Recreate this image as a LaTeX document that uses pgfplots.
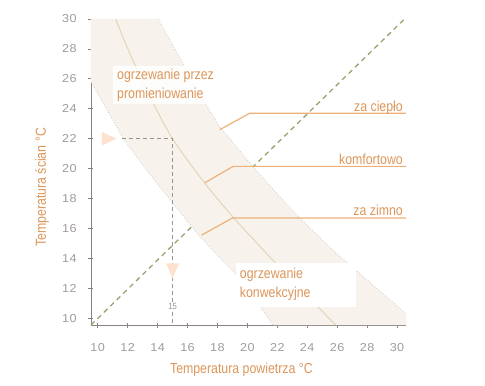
\documentclass[border=0pt]{standalone}
\usepackage{fontspec}
\setmainfont{Liberation Sans}
\newfontfamily\narrowfont{Liberation Sans}[FakeStretch=0.85]
\newfontfamily\tickfont{Liberation Sans}[FakeStretch=1.1,LetterSpace=4]
\usepackage{pgfplots}
\pgfplotsset{compat=1.18}
\definecolor{axgray}{RGB}{140,130,130}
\definecolor{ticklab}{RGB}{160,155,155}
\definecolor{bandc}{RGB}{247,243,236}
\definecolor{bandedge}{RGB}{208,208,208}
\definecolor{centerc}{RGB}{225,210,178}
\definecolor{orangeline}{RGB}{236,176,120}
\definecolor{orangetext}{RGB}{220,150,90}
\definecolor{lgreen}{RGB}{150,165,110}
\definecolor{peach}{RGB}{253,226,208}
\definecolor{dashgray}{RGB}{150,150,150}
\newcommand{\annfont}{\narrowfont\fontsize{14.5bp}{17bp}\selectfont}
\begin{document}
\begin{tikzpicture}
\useasboundingbox (-91bp,-61bp) rectangle (394bp,325bp);
\begin{axis}[
  at={(0,0)}, anchor=south west,
  scale only axis, width=315bp, height=306bp,
  xmin=9.55, xmax=30.6, ymin=9.55, ymax=30,
  axis x line*=bottom, axis y line*=left,
  axis line style={axgray, line width=1pt, -},
  x axis line style={-}, y axis line style={-},
  xtick={10,12,...,30}, ytick={10,12,...,30},
  tick align=center, major tick length=5bp,
  tick style={axgray, line width=0.8pt},
  /pgf/number format/assume math mode=true,
  xticklabel style={font=\tickfont\fontsize{11.5bp}{13bp}\selectfont, text=ticklab, anchor=center, yshift=-20bp},
  yticklabel style={font=\tickfont\fontsize{11.5bp}{13bp}\selectfont, text=ticklab, anchor=center, xshift=-19bp},
  clip=false,
]
% diagonal y = x
\addplot[lgreen, line width=1.3pt, dash pattern=on 5bp off 4bp] coordinates {(9.55,9.55) (30.5,30)};
% band
\addplot[fill=bandc, draw=none] coordinates {
 (9.55,30) (14.04,30) (15.49,27.4) (16.8,25.0) (18.15,22.8) (20.4,20.1) (23,17.2) (25.7,14.55) (27.5,13.0) (30.6,10.3)
 (30.6,9.55) (21.7,9.55) (20.5,11.3) (19.3,12.9) (18.2,14.0) (16.8,15.5) (15.04,17.67) (13.3,19.85) (11.7,22.0) (11.04,23.2) (9.55,25.8)
} -- cycle;
\addplot[bandedge, dotted, line width=0.9pt] coordinates {
 (14.04,30) (15.49,27.4) (16.8,25.0) (18.15,22.8) (20.4,20.1) (23,17.2) (25.7,14.55) (27.5,13.0) (30.6,10.3)};
\addplot[bandedge, dotted, line width=0.9pt] coordinates {
 (21.7,9.55) (20.5,11.3) (19.3,12.9) (18.2,14.0) (16.8,15.5) (15.04,17.67) (13.3,19.85) (11.7,22.0) (11.04,23.2) (9.55,25.8)};
% centre curve
\addplot[centerc, line width=0.9pt, smooth] coordinates {
 (11.2,30) (12.1,27.8) (13.5,24.8) (15,22) (17.1,19.1) (19.04,16.77) (21.5,14.1) (23.7,11.8) (25.9,9.55)};
% reading lines
\addplot[dashgray, line width=0.8pt, dash pattern=on 4bp off 3bp] coordinates {(11.6,22) (15,22) (15,9.55)};
% pointer lines
\addplot[orangeline, line width=1.2pt] coordinates {(18.15,22.6) (20.15,23.7) (30.6,23.7)};
\addplot[orangeline, line width=1.2pt] coordinates {(17.15,19.05) (19.05,20.15) (30.6,20.15)};
\addplot[orangeline, line width=1.2pt] coordinates {(16.93,15.55) (19.0,16.7) (30.6,16.7)};
% arrows (triangles)
\addplot[fill=peach, draw=none] coordinates {(10.27,22.45) (11.27,22) (10.27,21.55)} -- cycle;
\addplot[fill=peach, draw=none] coordinates {(14.56,13.67) (15.44,13.67) (15,12.67)} -- cycle;
% text boxes
\fill[white, fill opacity=0.85] (axis cs:11.0,24.35) rectangle (axis cs:18.0,26.88);
\fill[white] (axis cs:19.27,10.77) rectangle (axis cs:27.27,13.67);
\node[anchor=base west, inner sep=0pt, text=orangetext, font=\annfont] at (axis cs:11.29,25.93) {ogrzewanie przez};
\node[anchor=base west, inner sep=0pt, text=orangetext, font=\annfont] at (axis cs:11.29,24.71) {promieniowanie};
\node[anchor=base west, inner sep=0pt, text=orangetext, font=\annfont] at (axis cs:19.49,12.67) {ogrzewanie};
\node[anchor=base west, inner sep=0pt, text=orangetext, font=\annfont] at (axis cs:19.49,11.37) {konwekcyjne};
\node[anchor=base east, inner sep=0pt, text=orangetext, font=\annfont] at (axis cs:30.4,23.85) {za ciepło};
\node[anchor=base east, inner sep=0pt, text=orangetext, font=\annfont] at (axis cs:30.4,20.3) {komfortowo};
\node[anchor=base east, inner sep=0pt, text=orangetext, font=\annfont] at (axis cs:30.4,16.85) {za zimno};
\node[fill=white, inner sep=0.6pt, text=dashgray, font=\narrowfont\fontsize{9bp}{10bp}\selectfont] at (axis cs:15,10.77) {15};
% axis titles
\node[rotate=90, text=orangetext, font=\annfont] at (axis cs:6.27,18.75) {Temperatura ścian °C};
\node[text=orangetext, font=\annfont] at (axis cs:19.6,6.55) {Temperatura powietrza °C};
\end{axis}
\end{tikzpicture}
\end{document}
